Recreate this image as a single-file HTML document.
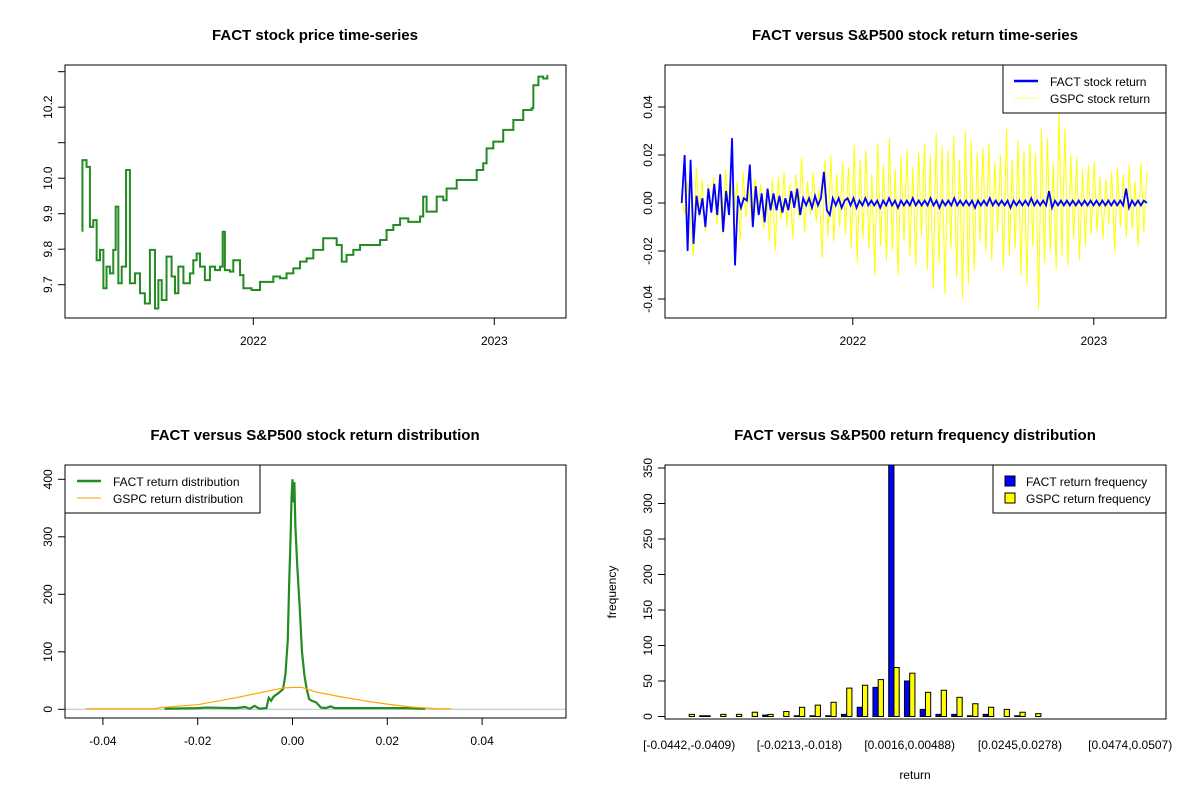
<!DOCTYPE html>
<html><head><meta charset="utf-8"><style>
html,body{margin:0;padding:0;background:#fff;}
svg{display:block;font-family:"Liberation Sans",Arial,sans-serif;}
.t{font-weight:bold;font-size:15px;text-anchor:middle;}
.ax{font-size:12px;}
</style></head><body>
<svg id="c" width="1200" height="800" xmlns="http://www.w3.org/2000/svg">
<rect width="1200" height="800" fill="#fff"/>
<text class="t" x="315" y="40">FACT stock price time-series</text>
<text class="t" x="915" y="40">FACT versus S&amp;P500 stock return time-series</text>
<text class="t" x="315" y="440">FACT versus S&amp;P500 stock return distribution</text>
<text class="t" x="915" y="440">FACT versus S&amp;P500 return frequency distribution</text>
</svg>
<script>
// ---- Panel 1 data: price ----
const priceDates=[2021.290,2021.291,2021.308,2021.322,2021.336,2021.350,2021.364,2021.378,2021.391,2021.405,2021.419,2021.429,2021.440,2021.454,2021.472,2021.488,2021.509,2021.530,2021.550,2021.571,2021.592,2021.606,2021.620,2021.640,2021.661,2021.675,2021.689,2021.710,2021.737,2021.751,2021.765,2021.779,2021.799,2021.820,2021.841,2021.862,2021.873,2021.882,2021.903,2021.917,2021.945,2021.959,2021.993,2022.028,2022.055,2022.083,2022.111,2022.138,2022.166,2022.194,2022.221,2022.249,2022.290,2022.318,2022.346,2022.367,2022.387,2022.415,2022.443,2022.484,2022.526,2022.553,2022.581,2022.609,2022.643,2022.692,2022.705,2022.719,2022.747,2022.761,2022.788,2022.802,2022.844,2022.899,2022.927,2022.954,2022.968,2022.996,2023.037,2023.079,2023.120,2023.155,2023.162,2023.183,2023.203,2023.220];
const priceValues=[9.851,10.051,10.032,9.863,9.882,9.769,9.798,9.690,9.751,9.732,9.798,9.920,9.704,9.751,10.023,9.704,9.732,9.676,9.647,9.798,9.633,9.713,9.657,9.779,9.723,9.676,9.751,9.704,9.732,9.769,9.788,9.751,9.713,9.751,9.741,9.751,9.849,9.741,9.737,9.769,9.727,9.690,9.685,9.708,9.708,9.723,9.718,9.732,9.746,9.765,9.774,9.798,9.831,9.831,9.812,9.765,9.784,9.798,9.812,9.812,9.826,9.854,9.868,9.887,9.877,9.892,9.948,9.906,9.906,9.948,9.938,9.971,9.995,9.995,10.023,10.042,10.084,10.103,10.136,10.164,10.192,10.197,10.262,10.286,10.281,10.291];
const priceTicks=[9.7,9.8,9.9,10.0,10.1,10.2,10.3];
const priceTickLabels=["9.7","9.8","9.9","10.0","","10.2",""];
const yearTicks=[2022,2023];
// ---- Panel 2 data: returns ----
const retStart=2021.29, retEnd=2023.22;
const factReturns=[0,0.020,-0.020,0.018,-0.017,0.003,-0.005,0.002,-0.010,0.006,-0.004,0.008,-0.005,0.012,-0.012,0.005,-0.005,0.027,-0.026,0.003,-0.002,0.002,0.001,0.016,-0.010,0.007,-0.005,0.004,-0.008,0.006,-0.003,0.004,-0.003,0.003,-0.004,0.002,-0.003,0.005,-0.002,0.006,-0.005,0.002,-0.001,0.002,-0.002,0.003,-0.001,0.002,0.013,-0.003,-0.005,0.002,-0.001,0.002,-0.002,0.001,0.002,-0.001,0.002,-0.002,0.001,-0.001,0.002,-0.001,0.001,-0.001,0.001,-0.002,0.001,-0.001,0.002,-0.001,0.001,-0.002,0.001,-0.001,0.001,-0.001,0.002,-0.001,0.001,-0.001,0.001,-0.001,0.002,-0.001,0.001,-0.002,0.001,-0.001,0.001,-0.001,0.002,-0.001,0.001,-0.001,0.001,-0.001,0.001,-0.002,0.001,-0.001,0.001,-0.001,0.002,-0.001,0.001,-0.001,0.001,-0.001,0.001,-0.002,0.001,-0.001,0.001,-0.001,0.001,-0.001,0.002,-0.001,0.001,-0.001,0.001,-0.001,0.005,-0.002,0.001,-0.001,0.001,-0.001,0.001,-0.001,0.001,-0.001,0.001,-0.001,0.001,-0.001,0.001,-0.001,0.001,-0.001,0.001,-0.001,0.001,-0.001,0.001,-0.001,0.001,-0.001,0.006,-0.002,0.001,-0.001,0.001,-0.001,0.001,0.000];
const gspcReturns=[0.002,-0.005,0.009,-0.007,-0.022,0.015,-0.006,0.010,-0.012,0.008,-0.004,0.011,-0.009,0.006,-0.013,0.014,-0.005,0.007,-0.003,0.009,-0.016,0.013,-0.006,0.005,-0.008,0.010,-0.004,0.008,-0.011,0.006,-0.016,0.010,-0.020,0.011,-0.007,0.013,-0.010,0.008,-0.015,0.012,-0.006,0.019,-0.012,0.009,-0.005,0.013,-0.008,0.006,-0.023,0.018,-0.014,0.020,-0.016,0.012,-0.010,0.017,-0.013,0.015,-0.019,0.024,-0.025,0.018,-0.015,0.022,-0.019,0.012,-0.030,0.025,-0.018,0.016,-0.024,0.027,-0.020,0.014,-0.030,0.019,-0.016,0.022,-0.022,0.015,-0.026,0.021,-0.014,0.025,-0.028,0.020,-0.036,0.029,-0.025,0.024,-0.038,0.022,-0.019,0.028,-0.031,0.018,-0.040,0.030,-0.034,0.026,-0.028,0.021,-0.016,0.023,-0.020,0.025,-0.024,0.017,-0.012,0.020,-0.027,0.031,-0.022,0.018,-0.019,0.026,-0.030,0.022,-0.034,0.025,-0.018,0.021,-0.044,0.031,-0.025,0.027,-0.020,0.017,-0.028,0.038,-0.022,0.031,-0.026,0.020,-0.015,0.019,-0.024,0.014,-0.018,0.016,-0.013,0.017,-0.012,0.011,-0.015,0.010,-0.009,0.013,-0.020,0.015,-0.010,0.012,-0.014,0.016,-0.011,0.009,-0.018,0.017,-0.012,0.013];
const retTicks=[-0.04,-0.02,0,0.02,0.04];
const retTickLabels=["-0.04","-0.02","0.00","0.02","0.04"];
// ---- Panel 3 data: densities ----
const factDensX=[-0.027,-0.02,-0.018,-0.012,-0.010,-0.009,-0.008,-0.007,-0.0055,-0.005,-0.0045,-0.004,-0.003,-0.002,-0.0015,-0.001,-0.0007,-0.0004,-0.0002,0,0.0002,0.0004,0.0006,0.001,0.0015,0.002,0.0025,0.003,0.0035,0.004,0.005,0.006,0.007,0.008,0.009,0.012,0.016,0.02,0.024,0.028];
const factDensY=[1,2,3,2,4,1,6,1,2,20,15,22,28,35,60,120,220,300,370,400,360,395,320,250,180,100,60,35,18,15,12,3,2,5,2,2,2,2,2,1];
const gspcDensX=[-0.0435,-0.029,-0.028,-0.02,-0.012,-0.005,-0.002,0,0.002,0.005,0.01,0.015,0.02,0.025,0.029,0.03,0.0335];
const gspcDensY=[1,1,3,8,20,32,37,38,38,30,22,15,9,4,2,1,1];
const densXTicks=[-0.04,-0.02,0,0.02,0.04];
const densXLabels=["-0.04","-0.02","0.00","0.02","0.04"];
const densYTicks=[0,100,200,300,400];
// ---- Panel 4 data: histogram ----
const binLabels=["[-0.0442,-0.0409)","","","","","","","[-0.0213,-0.018)","","","","","","","[0.0016,0.00488)","","","","","","","[0.0245,0.0278)","","","","","","","[0.0474,0.0507)",""];
const factFreq=[0,1,0,0,0,2,0,1,1,1,3,13,41,360,50,10,3,3,1,3,0,1,0,0,0,0,0,0,0,0];
const gspcFreq=[3,1,3,3,6,3,7,13,16,20,40,44,52,69,61,34,37,27,18,13,10,6,4,0,0,0,0,0,0,0];
const freqTicks=[0,50,100,150,200,250,300,350];

const svg=document.getElementById('c');
const NS='http://www.w3.org/2000/svg';
function mk(tag,attrs,parent){const e=document.createElementNS(NS,tag);for(const k in attrs)e.setAttribute(k,attrs[k]);(parent||svg).appendChild(e);return e;}

const xYear1=y=>253.3+(y-2022)*241;
const yPrice=v=>284.7-(v-9.7)*355;
const xYear2=y=>852.8+(y-2022)*241;
const yRet=v=>203-v*2400;
const xDens=v=>292.5+v*4740;
const yDens=v=>709.3-v*0.575;
const xGroup=i=>689.2+i*15.75;
const yFreq=v=>716.5-v*0.71;

function yAxis(x,ticks,labels,f,name){
  const g=mk('g',{});
  
  
  mk('line',{x1:x,x2:x,y1:f(ticks[0]),y2:f(ticks[ticks.length-1]),stroke:'#000'},g);
  ticks.forEach((t,i)=>{const y=f(t);mk('line',{x1:x-7,x2:x,y1:y,y2:y,stroke:'#000'},g);
    if(labels[i]){const tx=mk('text',{x:x-13,y:y,class:'ax','text-anchor':'middle',transform:`rotate(-90 ${x-13} ${y})`},g);tx.textContent=labels[i];}});
}
function xAxis(y,ticks,labels,f,name,line){
  const g=mk('g',{});
  
  
  if(line)mk('line',{x1:f(ticks[0]),x2:f(ticks[ticks.length-1]),y1:y,y2:y,stroke:'#000'},g);
  ticks.forEach((t,i)=>{const x=f(t);mk('line',{x1:x,x2:x,y1:y,y2:y+7,stroke:'#000'},g);
    if(labels[i]){const tx=mk('text',{x:x,y:y+27,class:'ax','text-anchor':'middle'},g);tx.textContent=labels[i];}});
}
function box(x1,y1,x2,y2,name){const r=mk('rect',{x:x1,y:y1,width:x2-x1,height:y2-y1,fill:'none',stroke:'#000'});
  
  }
function clip(id,x1,y1,x2,y2){const d=mk('clipPath',{id:id});mk('rect',{x:x1,y:y1,width:x2-x1,height:y2-y1},d);}

// Panel 1
clip('c1',65,65,566,318);
{let d='';priceDates.forEach((t,i)=>{const x=xYear1(t),y=yPrice(priceValues[i]);
  if(i===0)d+=`M${x},${y}`;else d+=`H${x}V${y}`;});
 const p=mk('path',{d:d,fill:'none',stroke:'#228B22','stroke-width':2,'clip-path':'url(#c1)'});
 
 }
box(65,65,566,318,'price-plot-frame');
yAxis(65,priceTicks,priceTickLabels,yPrice,'price-y-axis');
xAxis(318,yearTicks,["2022","2023"],xYear1,'price-x-axis',false);

// Panel 2
clip('c2',665,65,1166,318);
function retLine(vals,color,w,name){const n=vals.length;let d='';
  vals.forEach((v,i)=>{const x=xYear2(retStart+(retEnd-retStart)*i/(n-1));d+=(i?'L':'M')+x+','+yRet(v);});
  const p=mk('path',{d:d,fill:'none',stroke:color,'stroke-width':w,'clip-path':'url(#c2)'});
  
  }
retLine(gspcReturns,'#ffff00',1,'gspc-return-line');
retLine(factReturns,'#0000ff',1.8,'fact-return-line');
box(665,65,1166,318,'return-plot-frame');
yAxis(665,retTicks,retTickLabels,yRet,'return-y-axis');
xAxis(318,yearTicks,["2022","2023"],xYear2,'return-x-axis',false);
{const g=mk('g',{});
 mk('rect',{x:1003,y:65,width:163,height:48,fill:'#fff',stroke:'#000'},g);
 mk('line',{x1:1014,x2:1038,y1:81,y2:81,stroke:'#0000ff','stroke-width':2.5},g);
 mk('line',{x1:1014,x2:1038,y1:98,y2:98,stroke:'#ffff66','stroke-width':1},g);
 let t=mk('text',{x:1050,y:86,class:'ax'},g);t.textContent='FACT stock return';
 t=mk('text',{x:1050,y:103,class:'ax'},g);t.textContent='GSPC stock return';}

// Panel 3
clip('c3',65,465,566,718);
{const l=mk('line',{x1:65,x2:566,y1:yDens(0),y2:yDens(0),stroke:'#bebebe'});
 }
function densLine(xs,ys,color,w,name){let d='';xs.forEach((v,i)=>{d+=(i?'L':'M')+xDens(v)+','+yDens(ys[i]);});
  const p=mk('path',{d:d,fill:'none',stroke:color,'stroke-width':w,'clip-path':'url(#c3)'});
  
  }
densLine(factDensX,factDensY,'#228B22',2.2,'fact-density-line');
densLine(gspcDensX,gspcDensY,'#ffa500',1.2,'gspc-density-line');
box(65,465,566,718,'density-plot-frame');
yAxis(65,densYTicks,densYTicks.map(String),yDens,'density-y-axis');
xAxis(718,densXTicks,densXLabels,xDens,'density-x-axis',true);
{const g=mk('g',{});
 mk('rect',{x:65,y:465,width:195,height:48,fill:'#fff',stroke:'#000'},g);
 mk('line',{x1:77,x2:101,y1:481,y2:481,stroke:'#228B22','stroke-width':2.5},g);
 mk('line',{x1:77,x2:101,y1:498,y2:498,stroke:'#ffa500','stroke-width':1},g);
 let t=mk('text',{x:113,y:486,class:'ax'},g);t.textContent='FACT return distribution';
 t=mk('text',{x:113,y:503,class:'ax'},g);t.textContent='GSPC return distribution';}

// Panel 4
clip('c4',665,465,1166,719);
const bw=5.25;
factFreq.forEach((v,i)=>{const c=xGroup(i);
  const r=mk('rect',{x:c-bw,y:yFreq(v),width:bw,height:yFreq(0)-yFreq(v),fill:'#0000ff',stroke:'#000','stroke-width':1,'clip-path':'url(#c4)'});
  
  
  const r2=mk('rect',{x:c,y:yFreq(gspcFreq[i]),width:bw,height:yFreq(0)-yFreq(gspcFreq[i]),fill:'#ffff00',stroke:'#000','stroke-width':1,'clip-path':'url(#c4)'});
  
  
  if(binLabels[i]){const t=mk('text',{x:c,y:749,class:'ax','text-anchor':'middle'});t.textContent=binLabels[i];
    
    }
});
box(665,465,1166,719,'histogram-plot-frame');
yAxis(665,freqTicks,freqTicks.map(String),yFreq,'frequency-y-axis');
{let t=mk('text',{x:915,y:779,class:'ax','text-anchor':'middle'});t.textContent='return';
 
 t=mk('text',{x:616,y:592,class:'ax','text-anchor':'middle',transform:'rotate(-90 616 592)'});t.textContent='frequency';
 }
{const g=mk('g',{});
 mk('rect',{x:993,y:465,width:173,height:48,fill:'#fff',stroke:'#000'},g);
 mk('rect',{x:1005,y:476,width:10,height:10,fill:'#0000ff',stroke:'#000'},g);
 mk('rect',{x:1005,y:493,width:10,height:10,fill:'#ffff00',stroke:'#000'},g);
 let t=mk('text',{x:1026,y:486,class:'ax'},g);t.textContent='FACT return frequency';
 t=mk('text',{x:1026,y:503,class:'ax'},g);t.textContent='GSPC return frequency';}
</script>
</body></html>
